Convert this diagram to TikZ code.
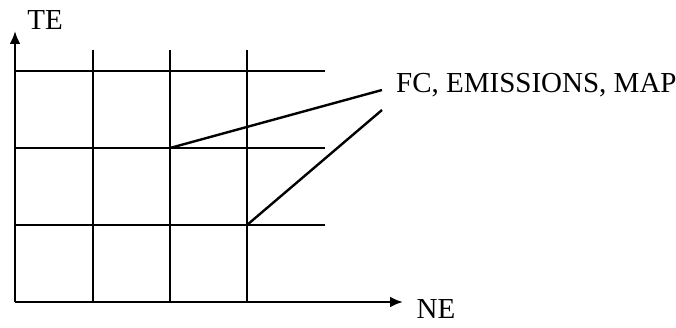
\documentclass[tikz,border=0pt]{standalone}
\usepackage{fontspec}
\setmainfont{Liberation Serif}
\usepackage{tikz}
\usetikzlibrary{arrows.meta, positioning}

\begin{document}
\begin{tikzpicture}[x=1pt, y=1pt, >={Latex[length=13pt,width=11pt]},
    lbl/.style={font=\fontsize{29}{33}\selectfont, inner sep=0pt},
    gridline/.style={line width=2.4pt}]
    \useasboundingbox (0,0) rectangle (676,327);
    % 1. Axes
    \coordinate (O) at (15,25);
    \draw[gridline, ->] (O) -- (403,25) coordinate (xend);
    \draw[gridline, ->] (O) -- (15,296) coordinate (yend);
    \node[lbl] (te) at (45,307) {TE};
    \node[lbl] (ne) at (436,18) {NE};
    % 2. Grid
    \foreach \y in {102,179,256}
        \draw[gridline] (15,\y) -- (325,\y);
    \foreach \x in {93,170,247}
        \draw[gridline] (\x,25) -- (\x,277);
    % 3. Label and connectors
    \node[lbl, anchor=west] (map) at (396,242) {FC, EMISSIONS, MAP};
    \coordinate (a) at (170,179);
    \coordinate (b) at (247,102);
    \coordinate (a1) at (382,237);
    \coordinate (b1) at (382,217);
    \draw[gridline] (a) -- (a1);
    \draw[gridline] (b) -- (b1);
\end{tikzpicture}
\end{document}
